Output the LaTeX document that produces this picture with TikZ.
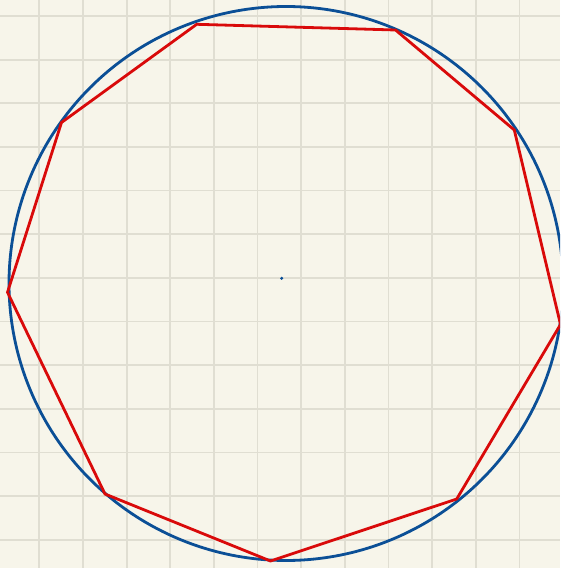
\documentclass[tikz,border=0pt]{standalone}
\definecolor{bgcream}{HTML}{F7F5EA}
\definecolor{gridgray}{HTML}{E0DED2}
\definecolor{circblue}{HTML}{0B4F96}
\definecolor{polyred}{HTML}{D90A0A}
\tikzset{
  gridline/.style={draw=gridgray, line width=1.8pt},
  circleline/.style={draw=circblue, line width=2.8pt},
  polyline/.style={draw=polyred, line width=2.8pt, line join=miter},
}
\begin{document}
\begin{tikzpicture}[x=1pt,y=1pt]
\useasboundingbox (0,0) rectangle (560,568);
\clip (0,0) rectangle (560,568);
\fill[bgcream] (0,0) rectangle (560,568);
\foreach \k in {0,...,12} {
  \draw[gridline] ({39.3+43.65*\k},0) -- ({39.3+43.65*\k},568);
  \draw[gridline] (0,{568-16-43.65*\k}) -- (560,{568-16-43.65*\k});
}
\coordinate (c) at (286,284.5);
\draw[circleline] plot[domain=0:360, samples=181, smooth cycle] ({286+277*cos(\x)},{284.5+277*sin(\x)});
\coordinate (p1) at (196.7,{568-24.3});
\coordinate (p2) at (395.5,{568-30});
\coordinate (p3) at (514.3,{568-130});
\coordinate (p4) at (560.5,{568-324.5});
\coordinate (p5) at (456.7,{568-499});
\coordinate (p6) at (270.5,{568-561});
\coordinate (p7) at (105,{568-494});
\coordinate (p8) at (7.5,{568-292.3});
\coordinate (p9) at (61.5,{568-122.5});
\draw[polyline] (p1) -- (p2) -- (p3) -- (p4) -- (p5) -- (p6) -- (p7) -- (p8) -- (p9) -- cycle;
\coordinate (dot) at (281.7,{568-278.3});
\fill[circblue] (dot) circle [radius=1.7pt];
\end{tikzpicture}
\end{document}
